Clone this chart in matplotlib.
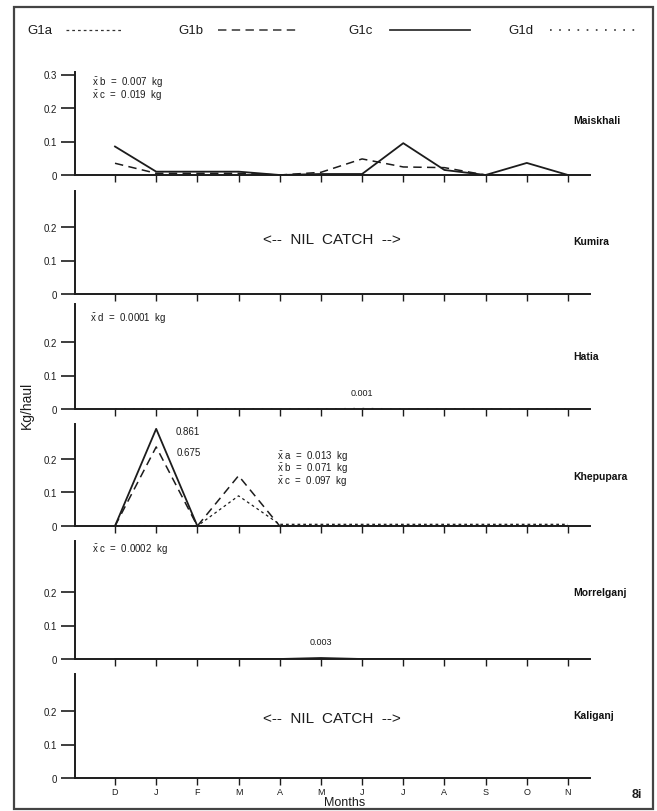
import numpy as np
import matplotlib
matplotlib.use("Agg")
import matplotlib.pyplot as plt
from matplotlib.lines import Line2D
from matplotlib.patches import Rectangle

plt.rcParams['font.family'] = ['Liberation Sans', 'DejaVu Sans']
plt.rcParams['mathtext.fontset'] = 'custom'
plt.rcParams['mathtext.rm'] = 'Liberation Sans'
plt.rcParams['mathtext.it'] = 'Liberation Sans'

# ---- data: monthly catch (kg/haul), Dec .. Nov ----
months = ["D", "J", "F", "M", "A", "M", "J", "J", "A", "S", "O", "N"]
stations = ["Maiskhali", "Kumira", "Hatia", "Khepupara", "Morrelganj", "Kaliganj"]

maiskhali_g1b = [0.035, 0.005, 0.005, 0.005, 0.0, 0.008, 0.048, 0.024, 0.022, 0.0, 0.0, 0.0]
maiskhali_g1c = [0.085, 0.010, 0.010, 0.010, 0.0, 0.003, 0.003, 0.095, 0.015, 0.0, 0.036, 0.0]
hatia_g1d = [0, 0, 0, 0, 0, 0, 0.001, 0, 0, 0, 0, 0]
khepupara_g1a = [0, 0, 0, 0.09, 0.005, 0.005, 0.005, 0.005, 0.005, 0.005, 0.005, 0.005]
khepupara_g1b = [0, 0.675, 0, 0.15, 0, 0, 0, 0, 0, 0, 0, 0]
khepupara_g1c = [0, 0.861, 0, 0, 0, 0, 0, 0, 0, 0, 0, 0]
morrelganj_g1c = [0, 0, 0, 0, 0, 0.003, 0, 0, 0, 0, 0, 0]

mean_notes = {
    "Maiskhali": [r"$\bar{x}$ b  =  0.007  kg", r"$\bar{x}$ c  =  0.019  kg"],
    "Hatia": [r"$\bar{x}$ d  =  0.0001  kg"],
    "Khepupara": [r"$\bar{x}$ a  =  0.013  kg", r"$\bar{x}$ b  =  0.071  kg",
                  r"$\bar{x}$ c  =  0.097  kg"],
    "Morrelganj": [r"$\bar{x}$ c  =  0.0002  kg"],
}

W, H = 657, 812
fig = plt.figure(figsize=(W / 100, H / 100), dpi=100)
INK = "#1c1c1c"


def fx(px):
    return px / W


def fy(py):
    return 1 - py / H


styles = {
    "G1a": dict(ls=(0, (2.2, 2.4)), lw=0.9),
    "G1b": dict(ls=(0, (5.5, 3.5)), lw=1.1),
    "G1c": dict(ls="-", lw=1.3),
    "G1d": dict(ls=(0, (1.0, 4.5)), lw=1.2),
}

# panel frames in pixels: baseline (zero) and top of the y spine
zero_px = [176, 295, 410, 527, 660, 779]
top_px = [73, 192, 305, 425, 542, 675]
left_px, right_px = 75, 590
px_per_unit = 335.0
x = np.arange(len(months))

# compressed scale above 0.2 kg for the Khepupara peaks
brk_in = [-1.0, 0.2, 0.675, 0.861, 1.2, 10.0]
brk_out = [-1.0, 0.2, 0.236, 0.29, 0.30, 0.35]


def fwd(v):
    return np.interp(v, brk_in, brk_out)


def inv(v):
    return np.interp(v, brk_out, brk_in)


axes = {}
for i, name in enumerate(stations):
    z, t = zero_px[i], top_px[i]
    ax = fig.add_axes([fx(left_px), fy(z), fx(right_px - left_px), (z - t) / H])
    axes[name] = ax
    top = (z - t) / px_per_unit
    if name == "Khepupara":
        ax.set_yscale("function", functions=(fwd, inv))
        ax.set_ylim(0, float(inv(top)))
    else:
        ax.set_ylim(0, top)
    ax.set_xlim((left_px - 115) / 41.18, (right_px - 115) / 41.18)
    ax.patch.set_alpha(0)
    for s in ("top", "right"):
        ax.spines[s].set_visible(False)
    for s in ("left", "bottom"):
        ax.spines[s].set_linewidth(1.4)
        ax.spines[s].set_color(INK)
    yt = [0, 0.1, 0.2, 0.3] if name == "Maiskhali" else [0, 0.1, 0.2]
    ax.set_yticks(yt)
    ax.set_yticklabels(["0" if v == 0 else f"{v:.1f}" for v in yt])
    ax.yaxis.set_minor_locator(matplotlib.ticker.NullLocator())
    ax.tick_params(axis="y", direction="out", length=10, width=1.2, labelsize=7,
                   pad=3, colors=INK)
    ax.set_xticks(x)
    ax.tick_params(axis="x", direction="out", length=5, width=1.0, colors=INK,
                   labelsize=6.5, pad=1.5)
    if name == "Kaliganj":
        ax.set_xticklabels(months)
    else:
        ax.set_xticklabels([])

# station names on the right
label_y = [121, 242, 357, 477, 593, 716]
for name, ly in zip(stations, label_y):
    fig.text(fx(573), fy(ly), name, fontsize=7.5, fontweight="bold", color="#111",
             va="center", ha="left")

# series
a = axes["Maiskhali"]
a.plot(x, maiskhali_g1b, color=INK, **styles["G1b"])
a.plot(x, maiskhali_g1c, color=INK, **styles["G1c"])

a = axes["Hatia"]
a.plot(x, hatia_g1d, color=INK, **styles["G1d"])
j = int(np.argmax(hatia_g1d))
a.annotate(f"{hatia_g1d[j]:.3f}", (x[j], hatia_g1d[j]), xytext=(0, 10),
           textcoords="offset points", ha="center", fontsize=6.5, color=INK)

a = axes["Khepupara"]
a.plot(x, khepupara_g1a, color=INK, **styles["G1a"])
a.plot(x, khepupara_g1b, color=INK, **styles["G1b"])
a.plot(x, khepupara_g1c, color=INK, **styles["G1c"])
j = int(np.argmax(khepupara_g1c))
a.annotate(f"{khepupara_g1c[j]:.3f}", (x[j], khepupara_g1c[j]), xytext=(14, -4),
           textcoords="offset points", ha="left", fontsize=7, color=INK)
j = int(np.argmax(khepupara_g1b))
a.annotate(f"{khepupara_g1b[j]:.3f}", (x[j], khepupara_g1b[j]), xytext=(15, -6),
           textcoords="offset points", ha="left", fontsize=7, color=INK)

a = axes["Morrelganj"]
a.plot(x, morrelganj_g1c, color=INK, **styles["G1c"])
j = int(np.argmax(morrelganj_g1c))
a.annotate(f"{morrelganj_g1c[j]:.3f}", (x[j], morrelganj_g1c[j]), xytext=(0, 10),
           textcoords="offset points", ha="center", fontsize=6.5, color=INK)

# mean-catch notes
note_pos = {"Maiskhali": (92, 82), "Hatia": (90, 318), "Khepupara": (277, 456),
            "Morrelganj": (92, 549)}
for name, lines in mean_notes.items():
    px, py = note_pos[name]
    for k, s in enumerate(lines):
        fig.text(fx(px), fy(py + 12.5 * k), s, fontsize=7, color=INK,
                 va="center", ha="left")

# nil catch notes
for name, py in (("Kumira", 240), ("Kaliganj", 719)):
    fig.text(fx(332), fy(py), "<--  NIL  CATCH  -->", fontsize=11, color=INK,
             ha="center", va="center")

# axis titles
fig.text(fx(27), fy(405), "Kg/haul", rotation=90, fontsize=10, color=INK,
         ha="center", va="center")
fig.text(fx(345), fy(803.5), "Months", fontsize=9, color=INK, ha="center",
         va="center")
fig.text(fx(637), fy(795), "8i", fontsize=9, fontweight="bold", color=INK,
         ha="center", va="center")

# key along the top
key = [("G1a", 27, 66, 122), ("G1b", 178, 218, 298), ("G1c", 348, 390, 470),
       ("G1d", 508, 550, 640)]
for lab, tx, l0, l1 in key:
    fig.text(fx(tx), fy(31), lab, fontsize=9.5, color=INK, ha="left", va="center")
    fig.add_artist(Line2D([fx(l0), fx(l1)], [fy(31), fy(31)], color="#333",
                          **styles[lab]))

# outer frame
fig.add_artist(Rectangle((fx(14), fy(810)), fx(653 - 14), (810 - 8) / H,
                         fill=False, lw=1.6, edgecolor="#444",
                         transform=fig.transFigure))

fig.savefig("out.png", dpi=100, facecolor="white")
